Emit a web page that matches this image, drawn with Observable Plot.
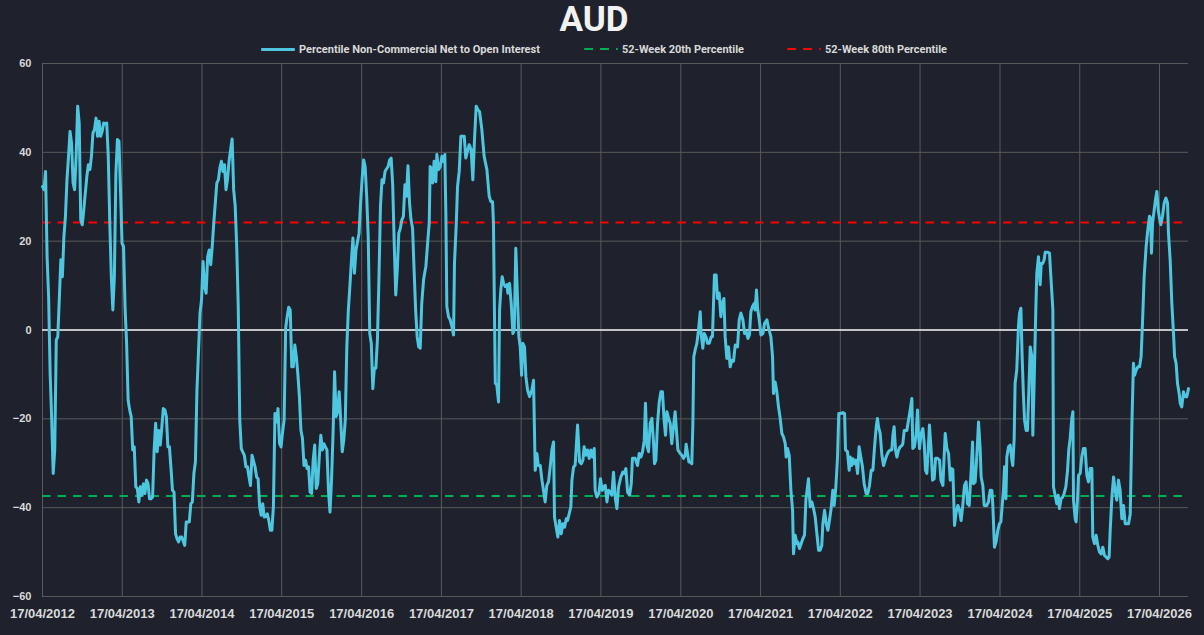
<!DOCTYPE html>
<html><head><meta charset="utf-8">
<script src="https://cdn.jsdelivr.net/npm/d3@7"></script>
<script src="https://cdn.jsdelivr.net/npm/@observablehq/plot@0.6"></script>
<style>
html,body{margin:0;padding:0;background:#1f222c;}
#wrap{position:relative;width:1204px;height:635px;overflow:hidden;background:#1f222c;font-family:Roboto,"Liberation Sans",sans-serif;}
#title{position:absolute;left:0;top:0;width:1188px;text-align:center;color:#f2f2f2;font-weight:700;font-size:35px;line-height:40px;}
.leg{position:absolute;top:42px;height:14px;display:flex;align-items:center;}
.sw{height:3px;border-radius:1px;}
.lt{color:#d9d9d9;font-weight:700;font-size:11px;white-space:nowrap;transform-origin:left center;margin-left:4px;display:inline-block;}
#chart{position:absolute;left:0;top:56px;}
</style>
</head>
<body>
<div id="wrap">
  <div id="title">AUD</div>
  <div class="leg" style="left:261px"><div class="sw" style="width:34px;background:#4ec6e0"></div><span class="lt" data-w="241">Percentile Non-Commercial Net to Open Interest</span></div>
  <div class="leg" style="left:584px"><div class="sw" style="width:34px;height:2px;background:repeating-linear-gradient(90deg,#00b050 0 9px,transparent 9px 16px)"></div><span class="lt" data-w="122">52-Week 20th Percentile</span></div>
  <div class="leg" style="left:787px"><div class="sw" style="width:34px;height:2px;background:repeating-linear-gradient(90deg,#ff0000 0 9px,transparent 9px 16px)"></div><span class="lt" data-w="122">52-Week 80th Percentile</span></div>
  <div id="chart"></div>
</div>
<script>
// Weekly values from 17/04/2012 (weeks 0..247)
const pctWeekly = [
 32.3,31.6,35.7,16.5,7.5,-9.8,-20,-32.3,-27,-2.3,
 -1.5,7.1,15.8,12,21,25.6,33.8,39,44.7,42.1,
 33.1,31.6,39.1,50.4,46.6,24.8,23.7,27.1,30.8,34.6,
 37.2,36.1,39.1,44.4,45.1,47.7,43.6,47,43.6,44.7,
 46.6,46.4,46.6,39.1,24.1,12,4.5,12,35.3,42.9,
 42.5,31.6,19.5,18.8,5,-3,-15.8,-18,-19.5,-27,
 -26.3,-35.3,-35.7,-38.7,-35.3,-37.2,-34.6,-36.8,-33.8,-34.6,
 -38,-38,-37.6,-27,-21,-27.4,-22.6,-25.9,-22,-17.7,
 -18,-19.5,-26.3,-26.3,-31,-36.1,-36.5,-45.9,-47,-47.7,
 -46.6,-46.6,-47.5,-48.5,-43.2,-43.2,-43.2,-39.1,-38.7,-32.3,
 -29.7,-13.5,-5,3.8,6.8,15.4,9.8,8.3,16.5,18,
 14.7,18.8,24.1,28.6,33.1,33.8,36.5,38,35.7,37.2,
 31.6,34,38,40.6,
 43,31.6,28,18.8,5.3,-20.3,
 -26.7,-27.5,-28.2,-30.8,-30.8,-33,-35,-28.2,-29.5,-30.8,
 -33.1,-33.5,-39.8,-41.7,-39.1,-42.1,-42,-41.4,-42.9,-45.1,
 -45.1,-39.8,-18.8,-20.7,-17.7,-25.6,-26.3,-23,-20.3,0.4,
 3,5.1,4.5,-8.3,-8.3,-3.4,-6,-10,-15,-22.6,
 -24.4,-30.5,-29.3,-31.2,-30.8,-36.5,-36.8,-29.3,-25.9,-35.7,
 -34.6,-28.6,-23.7,-27,-25.6,-26.3,-27,-36.1,-41,-33.8,
 -23.3,-9.4,-19.5,-18.4,-13.9,-20.3,-27.4,-24.8,-20.3,-3.8,
 4.5,9.8,15.5,20.7,12.8,18,19.9,21.8,28.6,34,
 38.3,36.8,30,21,-0.8,-3,-13.2,-8.6,-8.6,-2.3,
 11.3,27.8,33.8,33.1,35.7,36.3,36.8,38.3,38.7,32.7,
 19.5,7.9,13.5,21.8,22.9,24.8,25.6,32.7,30.1,37,
 28.6,24.8,22.9,13.5,4.5,-1.5,-3.8,-4.1
];
// Later readings: week offsets from 17/04/2012 and values
const laterWeeks = [
 248,249.2,250,250.7,252,252.9,253.5,254.6,255.1,256.1,
 257.2,257.9,259,260.1,261.2,261.8,263.1,263.8,264.4,265.5,
 266.6,267.7,268.8,269.4,270.5,271.4,272.5,273.6,274.7,275.8,
 276.8,277.9,279,280.3,281.4,282.5,283.6,284.7,285.8,287.3,
 288.8,290.6,292.1,293.2,294.3,294.9,295.6,296.1,297.1,298.2,
 298.9,299.7,300.6,301.5,302.6,303.7,304.3,305.4,306.5,307.6,
 308.5,309.5,310.6,311.5,312.4,313.3,314.1,315.2,316.1,317.2,
 318.5,320,321.1,322.2,323.3,324.2,325.5,326.6,327.6,328.7,
 329.8,330.9,332,333.1,334.2,334.8,335.9,337,338.1,339.2,
 340.3,341.4,342.5,343.3,344.4,345.5,346.2,347.3,348.3,349.9,
 351.2,352.3,353.4,354.2,355.3,356.4,357.5,358.6,359.7,360.8,
 361.4,362.5,363.8,364.9,366,366.9,368,369.1,370.1,371.2,
 372.3,373.4,374.5,375.6,376.7,378.2,379.5,380.4,381.5,382.6,
 383.9,385,385.8,387.6,389.1,390.2,391.3,392.4,393.5,394.3,
 395.2,396.3,397.4,398.5,399.6,400.2,401.1,402.2,403.3,404.4,
 405.4,406.5,407.4,408.3,409.4,410.5,411.5,412.6,413.7,414.4,
 415.5,417,418.1,419.2,420.3,420.9,421.8,422.7,423.5,424.6,
 425.3,425.9,426.8,427.9,429,430.1,430.7,431.8,432.7,433.8,
 434.9,436,437.3,438.1,438.8,439.4,440.5,441.4,442.5,443.6,
 444.5,445.6,446.4,447.5,448.6,449.7,450.8,451.9,453,454.5,
 455.6,456.7,458,459.1,460.2,461.3,462.3,463.2,464.3,465.4,
 466,466.9,467.6,468.7,469.8,471.1,472.2,473.7,474.8,476.3,
 477.4,478,479.1,480.2,481.3,482.4,483.5,484.6,485.7,486.3,
 487.2,488.3,489.4,490.5,491.1,492.2,493.3,493.9,495,496.1,
 497.2,498.3,499.2,500.9,502,503.1,504.2,505.3,506.4,507.5,
 508.5,509.6,510.3,511.4,512.5,513.6,514.6,515.7,516.8,517.7,
 518.8,519.9,520.7,522,523.4,524.5,525.1,526.4,527.5,528.2,
 529.2,529.9,531,531.9,533,534,535.1,536.2,537.3,538.6,
 539.7,540.8,541.9,543,544.1,545.2,546,546.7,547.8,548.9,
 550,551,552.1,553.2,554.3,555.4,556.1,556.9,557.8,558.7,
 559.8,560.9,562,562.6,563.5,565.2,566.3,567.4,568.5,569.1,
 570.2,571.3,572.2,572.8,573.5,574.6,575.7,576.6,577.4,578.3,
 579.2,580,581.1,582,583.1,584,585.3,586.6,587.5,588.8,
 589.6,590.3,591.4,592.5,593.6,594.4,595.3,596.4,597.5,598.6,
 599.7,600.7,601.8,602.9,604,604.9,606,607.3,608.2,608.8,
 609.9,611,612.1,613.2,613.8,614.9,615.8,617.5,618.6,619.7,
 620.1,620.8,621.4,622.5,623.6,624.7,625.8,626.7,627.5,628.4,
 629.1,630,630.6,631.7,632.8,633.9,634.5,635.4,636,637.1,
 638.2,638.9,639.8,640.6,641.5,642.2,643.2,644.1,645,645.9,
 647,647.6,648.5,649.6,650.2,651.3,652.4,653.1,654.1,655,
 655.7,657.4,658.5,659.4,660.7,661.1,662.2,663.3,664.2,665,
 666.1,667.2,668.1,669.2,670.3,671.1,672,673.1,673.8,674.2,
 675.3,675.9,676.8,677.5,678.6,679.6,680.7,681.8,682.9,684,
 685.1,686.2,686.8,687.9,689,690.1,691.2,692.3,693.4,694.5,
 695.6,696.6,697.5,698.2,699.3,700.4,701.4,702.5,703.6,704.7,
 705.8,706.9,708,709.1,710.2,711.3,712.4,713.4,714.1,715.2,
 716.3,717.4,718.4,719.3,720.4,721.7,722.8,723.9,724.6,725.2,
 725.9,727,727.8,728.7,729.6,730.4,731.3,732.4,733.5,734.6,
 735.7,736.3,737.4,738.5,739.6,740.3,741.3,742.2,743.3,744,
 745,746.1,747.2,748.3,749.4
];
const laterPct = [
 6,11.3,13,14.3,20.3,24.1,36.8,36.1,33.1,38,
 33.4,39.5,36.1,36.8,39.1,38,39.5,25.6,5.3,3,
 2.3,0.8,-1.1,15,23.3,32.3,35.7,43.6,43.6,43.6,
 38.7,40.2,41.7,40.6,33.8,42.9,50.4,49.6,49.2,45.1,
 39.1,36.1,30.1,28.9,28.9,24.1,2.3,-12,-12.4,-16.2,
 4.5,9,12,10.5,9.8,10.2,8.3,10.5,6,-0.8,
 0,18.4,7.5,-1.5,-3.8,-10.2,-3,-3.8,-10.5,-13.5,
 -15,-13.5,-11.3,-31.6,-27.8,-30.5,-30.5,-33.8,-36.1,-38.7,
 -35,-34.2,-30.8,-27,-25.2,-42.1,-44.4,-46.6,-42.9,-45.9,
 -43.6,-44.4,-42.5,-42.9,-41.4,-39.8,-33.8,-30.8,-30.5,-21.4,
 -29.7,-30.1,-29.3,-26.3,-28.2,-27,-28.9,-27,-28.6,-26.7,
 -36.1,-37.6,-36.8,-33.5,-36.1,-35.3,-35,-38.7,-36.1,-36.5,
 -37.2,-32,-37.6,-40.2,-35.3,-33.1,-32,-32.3,-31.2,-36.5,
 -37.2,-34.6,-28.9,-28.9,-30.5,-27.8,-28.6,-27.4,-24.8,-16.5,
 -25.9,-27.4,-21,-19.9,-25.6,-30.1,-29.3,-21,-16.2,-13.9,
 -13.9,-20.3,-23.7,-18.4,-19.9,-21,-25.6,-21.8,-18.4,-21.8,
 -27,-27.8,-28.2,-28.9,-28.2,-25.7,-27.8,-29.7,-29.7,-30.1,
 -21,-6,-4.5,-3,0,4.1,-0.8,-4.1,-0.8,-1.5,
 -3,-3,-1.5,-1.5,6,12.4,12.4,7.1,8.3,3,
 6,7.1,-1.5,-6.4,-3.8,-8.3,-6.8,-7,-3.4,-3.8,
 2.3,3.8,2.3,-0.8,-0.4,-1.9,-1.1,4.1,5.3,6,
 4.5,9,4.9,2.3,-1.1,-0.8,1.5,2.3,0.4,-1.5,
 -6,-14.3,-11.7,-13.9,-17.3,-19.9,-23.3,-24.1,-25.6,-28.6,
 -26.7,-28.2,-36.1,-40.6,-50.4,-46.2,-48.1,-47.7,-49.2,-48.1,
 -47,-46.2,-38.3,-33.5,-39.8,-38.7,-40.2,-42.1,-45.9,-49.6,
 -49.6,-48.5,-43.6,-40.6,-43.6,-45.1,-42.9,-40.2,-36.1,-39.5,
 -35.3,-28.6,-18.8,-18.8,-18.6,-18.8,-27,-27.4,-31.6,-28.6,
 -30.5,-29,-30.1,-29.3,-32.3,-26.3,-28.6,-30.8,-34.6,-36.8,
 -36.8,-35,-31.6,-31.6,-26.3,-21.8,-19.9,-21.8,-23.3,-28.2,
 -30.5,-29.3,-28.2,-27.4,-27,-27,-23.7,-21.8,-27,-28.6,
 -27,-26.3,-26,-25.6,-22.6,-22.6,-20.3,-18,-15.4,-26.7,
 -26.3,-23.3,-18,-23.3,-26.7,-23.3,-22.2,-25.6,-31.6,-32.3,
 -27,-21.4,-27,-33.8,-33.5,-28.9,-28.9,-29.3,-33.8,-35,
 -28.6,-23.3,-26.7,-27.8,-33.8,-31.2,-31.4,-44,-41,-39.5,
 -40.6,-42.9,-39.5,-35,-34.2,-39.1,-39.5,-31.6,-25.2,-34.6,
 -34.2,-28.2,-20.7,-27,-33.1,-35,-39.5,-39.5,-38.7,-36.1,
 -37.2,-36.1,-39.1,-48.9,-47.7,-45.1,-43.6,-43.2,-39.8,-36.1,
 -30.8,-38,-28.6,-26.3,-25.9,-29.3,-30.5,-24.4,-12,-9,
 0.8,3.8,4.9,-6,-15,-20.3,-22.6,-22.6,-13.5,-3.8,
 -6,-23.7,-11.3,5.3,12.8,16.5,10.2,15,15,15.8,
 17.5,17.5,17.3,12,4.5,-35.3,-37.2,-39.1,-37.2,-40.2,
 -38,-37.6,-36.8,-35.3,-31.6,-27,-24.4,-19.9,-18.4,-38.3,
 -42.5,-43.2,-38.3,-32.7,-32.3,-28.6,-26.7,-26.7,-32.7,-34.2,
 -31.2,-31.2,-46.6,-48.1,-46.2,-48.5,-50,-50.4,-48.9,-50.8,
 -51.1,-51.5,-51.1,-45.1,-37.6,-33.1,-36.1,-38.3,-33.8,-36.1,
 -42.5,-39.5,-43.6,-43.6,-43.6,-41.4,-21,-7.5,-10.2,-9,
 -8.3,-8.3,-6,1.5,12,18.8,22.6,25.6,25.2,17.3,
 24.1,27.1,29.3,31.2,27.1,25.2,23.7,25.6,28.6,29.7,
 28.6,21.8,15.8,6,-0.8,-6,-7.5,-12,-14.3,-16.5,
 -17.3,-13.9,-15,-15,-13.2
];
const pct20 = -37.4;   // 52-Week 20th Percentile
const pct80 = 24.2;    // 52-Week 80th Percentile
const tickLabels = ["17/04/2012","17/04/2013","17/04/2014","17/04/2015","17/04/2016","17/04/2017","17/04/2018","17/04/2019","17/04/2020","17/04/2021","17/04/2022","17/04/2023","17/04/2024","17/04/2025","17/04/2026"];
const yTicks = [-60,-40,-20,0,20,40,60];

const parse = d3.utcParse("%d/%m/%Y");
const start = parse(tickLabels[0]);
const toDate = w => new Date(start.getTime() + w * 7 * 86400000);
const series = pctWeekly.map((v, i) => ({date: toDate(i), value: v}))
  .concat(laterWeeks.map((w, i) => ({date: toDate(w), value: laterPct[i]})));
const tickDates = tickLabels.map(parse);
const end = series[series.length - 1].date;

const chart = Plot.plot({
  width: 1204, height: 579,
  marginTop: 7, marginBottom: 39, marginLeft: 42, marginRight: 16,
  style: {background: "transparent", color: "#d9d9d9", fontFamily: '"Liberation Sans", Arial, sans-serif', fontWeight: "bold", overflow: "visible"},
  x: {type: "utc", domain: [start, end]},
  y: {domain: [-60, 60]},
  marks: [
    Plot.gridX(tickDates, {stroke: "#5a5a5a", strokeOpacity: 1, strokeWidth: 1}),
    Plot.gridY(yTicks, {stroke: "#5a5a5a", strokeOpacity: 1, strokeWidth: 1}),
    Plot.ruleY([0], {stroke: "#f0f0f0", strokeWidth: 1.3}),
    Plot.ruleY([pct20], {stroke: "#00b050", strokeWidth: 2, strokeDasharray: "8.5,7"}),
    Plot.ruleY([pct80], {stroke: "#ff0000", strokeWidth: 2, strokeDasharray: "8.5,7"}),
    Plot.line(series, {x: "date", y: "value", stroke: "#4ec6e0", strokeWidth: 3}),
    Plot.axisX(tickDates, {tickSize: 0, tickPadding: 12, tickFormat: d3.utcFormat("%d/%m/%Y"), fontSize: 13, label: null}),
    Plot.axisY(yTicks, {tickSize: 0, tickPadding: 11, fontSize: 11, label: null})
  ]
});
document.getElementById("chart").appendChild(chart);

document.querySelectorAll(".lt").forEach(el => {
  const w = el.getBoundingClientRect().width;
  const target = +el.dataset.w;
  if (w > 0) el.style.transform = `scaleX(${target / w})`;
});
</script>
</body></html>
